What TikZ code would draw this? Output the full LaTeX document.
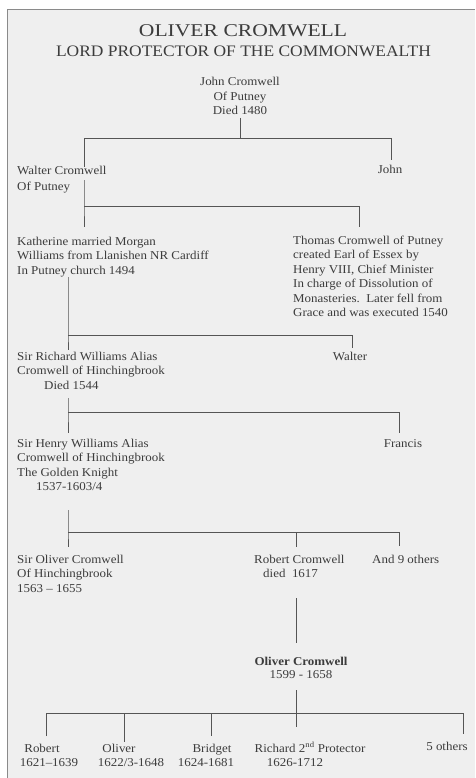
\documentclass[tikz,border=0pt]{standalone}
\usepackage{fontspec}
\setmainfont[FakeStretch=1.08]{Liberation Serif}
\newfontfamily\titlefont[FakeStretch=1.2]{Liberation Serif}
\newfontfamily\subtitlefont[FakeStretch=1.09]{Liberation Serif}
\definecolor{ink}{HTML}{3C3C3C}
\definecolor{linec}{HTML}{555555}
\definecolor{paper}{HTML}{EFEFEF}
\definecolor{framec}{HTML}{8A8A8A}
\begin{document}
\begin{tikzpicture}[x=1pt,y=-1pt,
  txt/.style={inner sep=0pt, text=ink, font=\fontsize{12}{14.5}\selectfont},
  lt/.style={txt, anchor=base west, align=left},
  ct/.style={txt, anchor=base, align=center},
  link/.style={draw=linec, line width=0.8pt}]
\useasboundingbox (0,0) rectangle (475,778);
\fill[white] (0,0) rectangle (475,778);
\fill[paper] (7.5,9.5) rectangle (475,778);
\draw[draw=framec, line width=1.5pt] (7.5,778) -- (7.5,9.5) -- (475,9.5);

% titles (anchored at the baseline of their last line)
\node[txt, anchor=base, font=\titlefont\fontsize{18}{20}\selectfont] (t1) at (243,37) {OLIVER CROMWELL};
\node[txt, anchor=base, font=\subtitlefont\fontsize{16}{18}\selectfont] (t2) at (243.5,57) {LORD PROTECTOR OF THE COMMONWEALTH};

% people
\node[ct] (john) at (240,115) {John Cromwell\\Of Putney\\Died 1480};
\node[lt] (walter) at (17,190) {Walter Cromwell\\[1.5pt]Of Putney};
\node[ct] (john2) at (390,173) {John};
\node[lt] (kath) at (17,274) {Katherine married Morgan\\Williams from Llanishen NR Cardiff\\In Putney church 1494};
\node[lt] (thomas) at (293,316.5) {Thomas Cromwell of Putney\\created Earl of Essex by\\Henry VIII, Chief Minister\\In charge of Dissolution of\\Monasteries.\ \ Later fell from\\Grace and was executed 1540};
\node[lt] (richard) at (17,389) {Sir Richard Williams Alias\\Cromwell of Hinchingbrook\\\hspace*{27pt}Died 1544};
\node[ct] (walter2) at (350,360) {Walter};
\node[lt] (henry) at (17,490.5) {Sir Henry Williams Alias\\Cromwell of Hinchingbrook\\The Golden Knight\\\hspace*{19pt}1537-1603/4};
\node[ct] (francis) at (403,447) {Francis};
\node[lt] (soliver) at (17,592) {Sir Oliver Cromwell\\Of Hinchingbrook\\1563 -- 1655};
\node[lt] (robert) at (254,577.5) {Robert Cromwell\\\hspace*{9pt}died\ \ 1617};
\node[lt] (others9) at (372,563) {And 9 others};
\node[ct] (oliver) at (301,678) {\textbf{Oliver Cromwell}\\[-1.5pt]1599 - 1658};
\node[ct] (c1) at (42,752) {Robert};
\node[ct] (c1d) at (49,766) {1621--1639};
\node[ct] (c2) at (119,752) {Oliver};
\node[ct] (c2d) at (131,766) {1622/3-1648};
\node[ct] (c3) at (212,752) {Bridget};
\node[ct] (c3d) at (206,766) {1624-1681};
\node[ct] (c4) at (310,752) {Richard 2\textsuperscript{nd} Protector};
\node[ct] (c4d) at (295,766) {1626-1712};
\node[ct] (c5) at (447,750) {5 others};

% junction coordinates
\coordinate (a0) at (240,118);
\coordinate (a1) at (240,138);
\coordinate (aL) at (84,138);
\coordinate (aR) at (391,138);
\coordinate (aLd) at (84,167);
\coordinate (aRd) at (391,160);

\coordinate (b0) at (84,180);
\coordinate (bL) at (84,206);
\coordinate (bR) at (359,206);
\coordinate (bLd) at (84,227);
\coordinate (bRd) at (359,227);

\coordinate (c0) at (68,277);
\coordinate (cL) at (68,335);
\coordinate (cR) at (352,335);
\coordinate (cLd) at (68,350);
\coordinate (cRd) at (352,348);

\coordinate (d0) at (68,398);
\coordinate (dL) at (68,412);
\coordinate (dR) at (399,412);
\coordinate (dLd) at (68,433);
\coordinate (dRd) at (399,433);

\coordinate (e0) at (68,510);
\coordinate (eL) at (68,532);
\coordinate (eM) at (296,532);
\coordinate (eR) at (399,532);
\coordinate (eLd) at (68,547);
\coordinate (eMd) at (296,547);
\coordinate (eRd) at (399,546);

\coordinate (f0) at (296,598);
\coordinate (f1) at (296,643);

\coordinate (g0) at (296,690);
\coordinate (gM) at (296,713);
\coordinate (gMd) at (296,727);
\coordinate (g1) at (46,713);
\coordinate (g2) at (124,713);
\coordinate (g3) at (211,713);
\coordinate (g5) at (463,713);
\coordinate (g1d) at (46,736);
\coordinate (g2d) at (124,742);
\coordinate (g3d) at (211,736);
\coordinate (g5d) at (463,734);

% connectors
\draw[link] (a0) -- (a1);
\draw[link] (aLd) -- (aL) -- (aR) -- (aRd);
\draw[link] (b0) -- (bL) -- (bLd);
\draw[link] (bL) -- (bR) -- (bRd);
\draw[link] (c0) -- (cL) -- (cLd);
\draw[link] (cL) -- (cR) -- (cRd);
\draw[link] (d0) -- (dL) -- (dLd);
\draw[link] (dL) -- (dR) -- (dRd);
\draw[link] (e0) -- (eL) -- (eLd);
\draw[link] (eL) -- (eR) -- (eRd);
\draw[link] (eM) -- (eMd);
\draw[link] (f0) -- (f1);
\draw[link] (g0) -- (gMd);
\draw[link] (g1d) -- (g1) -- (g5) -- (g5d);
\draw[link] (g2) -- (g2d);
\draw[link] (g3) -- (g3d);
\end{tikzpicture}
\end{document}
